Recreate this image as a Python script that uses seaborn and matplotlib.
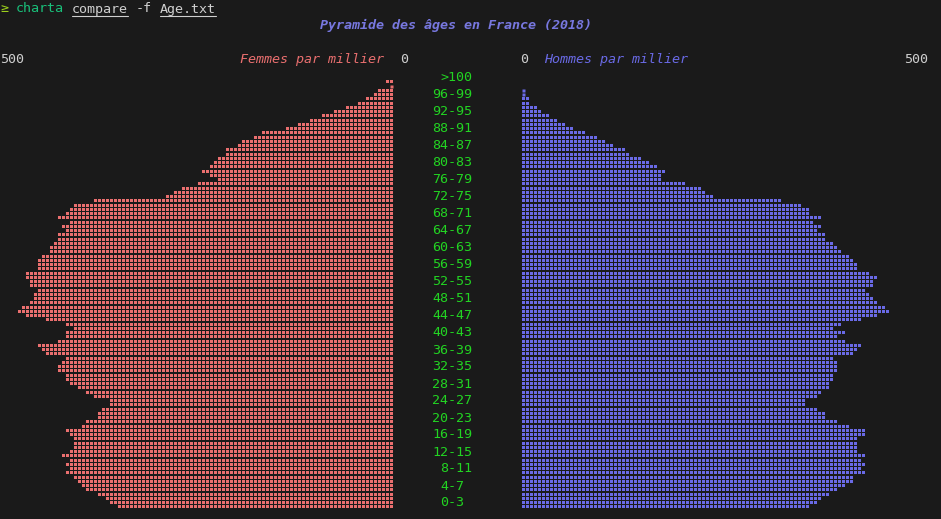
import math
import numpy as np
import matplotlib
matplotlib.use("Agg")
import matplotlib.pyplot as plt
from matplotlib.lines import Line2D
import seaborn as sns

sns.set_theme(style="dark")
plt.rcParams["font.family"] = ["DejaVu Sans Mono"]

#%% Data (par millier, age 0 to 100+)
ages = np.arange(0, 101)

femmes = [352, 362, 367, 377, 393, 398, 403, 408, 418, 413,
          418, 413, 423, 413, 408, 408, 408, 413, 418, 398,
          393, 377, 377, 372, 362, 362, 383, 393, 403, 413,
          418, 418, 428, 428, 423, 418, 444, 449, 454, 428,
          418, 418, 408, 418, 444, 469, 479, 474, 464, 459,
          459, 454, 464, 464, 469, 469, 454, 454, 454, 449,
          439, 439, 434, 428, 428, 418, 423, 413, 428, 418,
          413, 408, 383, 291, 281, 270, 250, 224, 235, 245,
          235, 230, 224, 214, 214, 199, 194, 179, 168, 138,
          122, 107, 92, 77, 61, 46, 36, 26, 20, 5,
          10]

hommes = [367, 377, 383, 393, 403, 413, 423, 423, 439, 434,
          439, 434, 439, 428, 428, 428, 428, 439, 439, 418,
          403, 388, 388, 377, 362, 362, 377, 383, 393, 393,
          398, 398, 403, 403, 403, 398, 423, 428, 434, 413,
          403, 413, 398, 408, 434, 454, 469, 464, 454, 449,
          444, 439, 449, 449, 454, 444, 428, 428, 423, 418,
          408, 403, 398, 388, 388, 377, 383, 372, 383, 367,
          367, 357, 332, 245, 235, 230, 209, 179, 179, 184,
          173, 163, 153, 138, 133, 117, 107, 97, 82, 66,
          56, 46, 36, 26, 20, 10, 10, 5, 5, 2,
          2]

age_labels = ["0-3", "4-7", "8-11", "12-15", "16-19", "20-23", "24-27",
              "28-31", "32-35", "36-39", "40-43", "44-47", "48-51",
              "52-55", "56-59", "60-63", "64-67", "68-71", "72-75",
              "76-79", "80-83", "84-87", "88-91", "92-95", "96-99", ">100"]

scale_max = 500

#%% Colours
bg = "#1a1a1a"
pink = "#ea6f6f"
blue = "#6a6ae6"
green = "#22d422"
grey = "#cfcfcf"
title_col = "#7878e0"

W, H = 941, 519
fig = plt.figure(figsize=(W / 100, H / 100), dpi=100, facecolor=bg)


def box(x0, y0, x1, y1):
    return [x0 / W, 1 - y1 / H, (x1 - x0) / W, (y1 - y0) / H]


def ftext(x, y, s, **kw):
    return fig.text(x / W, 1 - y / H, s, fontsize=9.6, va="center", **kw)


# 98 braille-like dots for the full width, 4 ages per text line
step = scale_max / 98
ylims = (-1, 112)


def draw_dots(ax, vals, col):
    for age, v in zip(ages, vals):
        n = int(round(v / step))
        if n == 0:
            continue
        y0 = age + 0.25 * (age // 4)
        ax.broken_barh([(i * step, 0.75 * step) for i in range(n)], (y0, 0.75),
                       facecolors=col, linewidth=0, snap=False)
    ax.set_ylim(*ylims)
    ax.axis("off")


ax_f = fig.add_axes(box(1, 60, 393, 512))
draw_dots(ax_f, femmes, pink)
ax_f.set_xlim(scale_max, 0)

ax_h = fig.add_axes(box(522, 60, 914, 512))
draw_dots(ax_h, hommes, blue)
ax_h.set_xlim(0, scale_max)

# age labels in the middle column
ax_m = fig.add_axes(box(393, 60, 521, 512))
ax_m.set_xlim(393, 521)
ax_m.set_ylim(*ylims)
ax_m.axis("off")
for k, lab in enumerate(age_labels):
    x_left = 432 + 8 * math.ceil((5 - len(lab)) / 2)
    ax_m.text(x_left, 1.5 + 4.25 * k - 0.25, lab, color=green, fontsize=9.6,
              ha="left", va="center")

#%% Header texts
ftext(0, 9, "≥", color="#9ccf1c")
ftext(16, 9, "charta", color="#19c07a")
ftext(72, 9, "compare", color=grey)
ftext(136, 9, "-f", color=grey)
ftext(160, 9, "Age.txt", color=grey)
for x0, x1 in ((72, 128), (160, 216)):
    fig.add_artist(Line2D([x0 / W, x1 / W], [1 - 16 / H, 1 - 16 / H],
                          color=grey, linewidth=0.8))

ftext(456, 25.5, "Pyramide des âges en France (2018)", color=title_col,
      ha="center", fontweight="bold", fontstyle="italic")

ftext(0, 60, "500", color=grey)
ftext(384, 60, "Femmes par millier", color=pink, ha="right", fontstyle="italic")
ftext(400, 60, "0", color=grey)
ftext(520, 60, "0", color=grey)
ftext(544, 60, "Hommes par millier", color=blue, fontstyle="italic")
ftext(904, 60, "500", color=grey)

fig.savefig("out.png", dpi=100, facecolor=bg)
